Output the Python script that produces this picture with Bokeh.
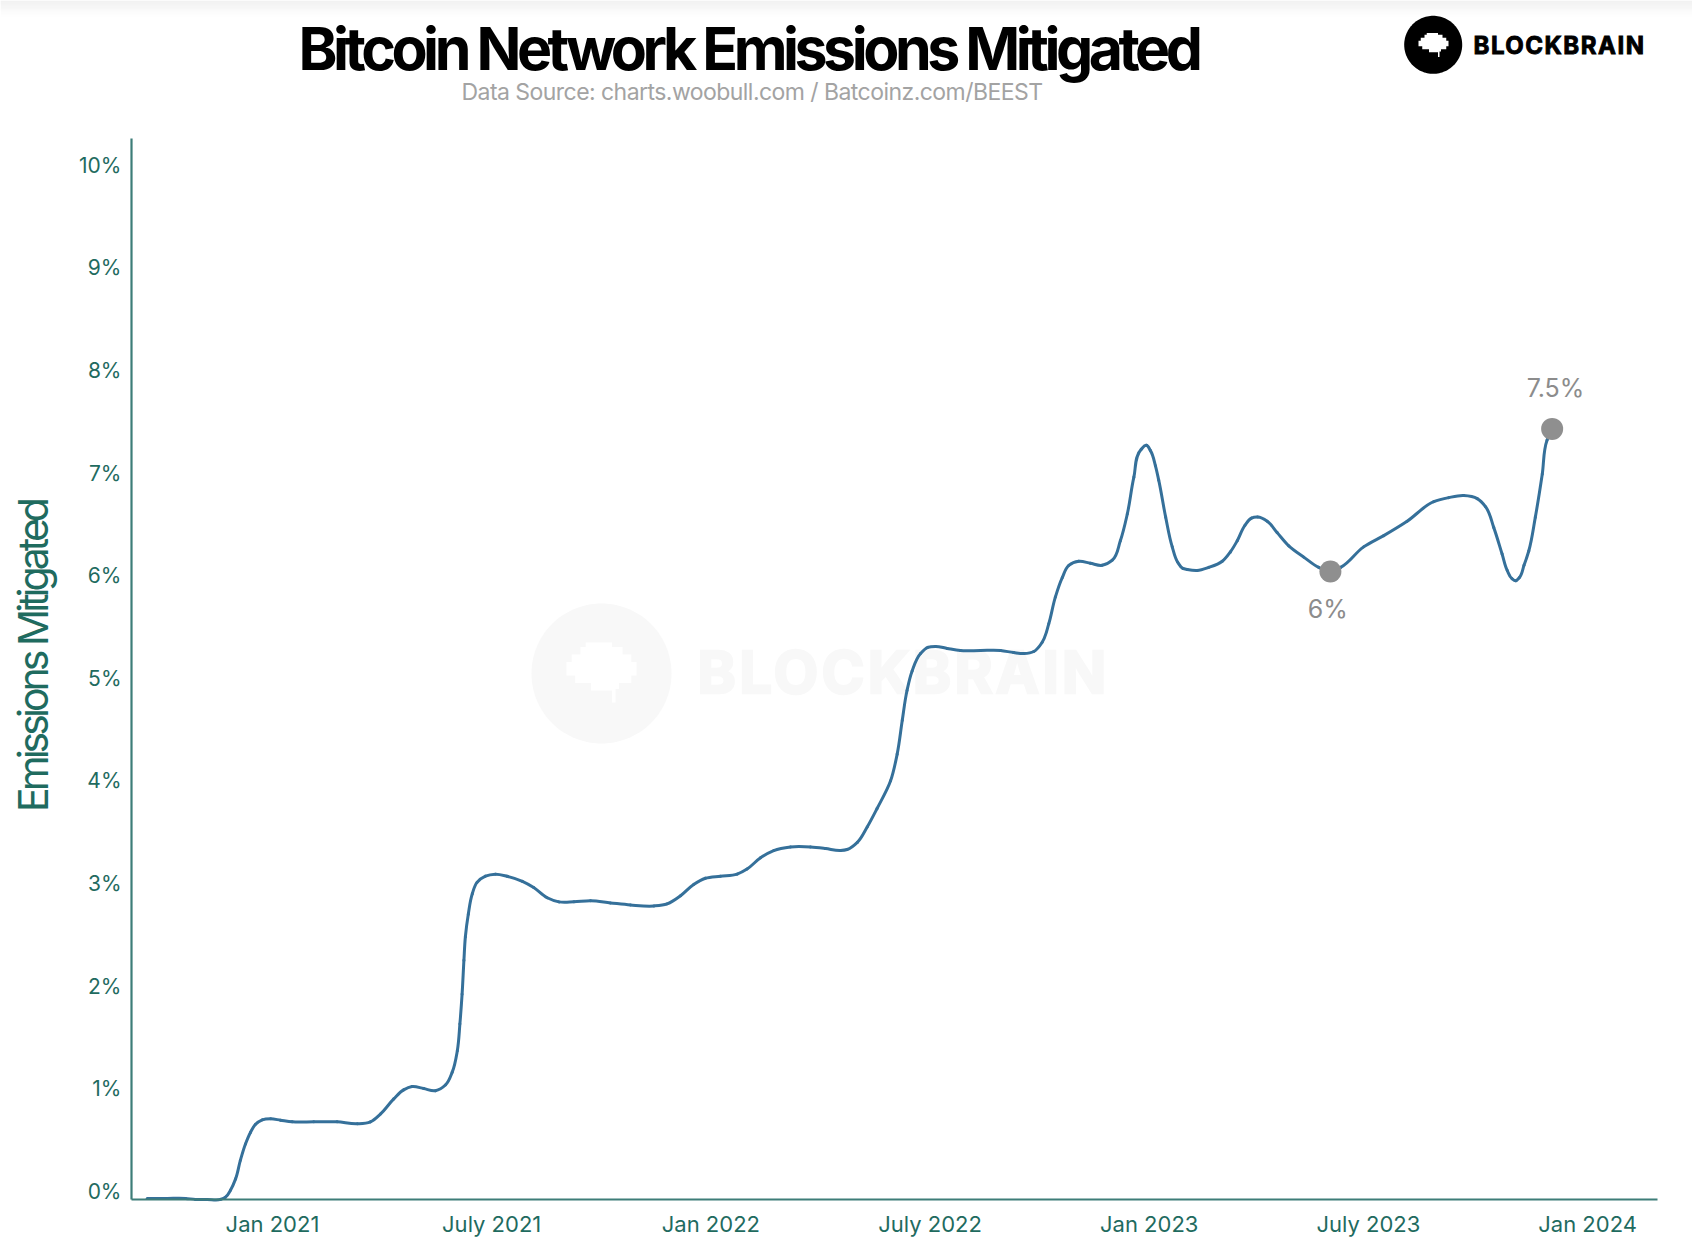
import math
from bokeh.io import curdoc
from bokeh.plotting import figure
from bokeh.core.properties import value
from bokeh.embed import file_html
from bokeh.resources import INLINE
from bokeh.models import Label, PolyAnnotation, FixedTicker, CustomJS

# ---------- data ----------
months_since_jan_2021 = [
    -3.43, -2.88, -2.38, -2.11, -1.79, -1.42, -1.29, -1.15, -1.01, -0.88, -0.74, -0.60, -0.47, -0.28, -0.05,
    0.22, 0.54, 1.13, 1.77, 2.32, 2.68, 2.96, 3.32, 3.59, 3.82, 4.14, 4.46, 4.74, 4.92, 5.06, 5.13, 5.19, 5.24,
    5.28, 5.36, 5.47, 5.60, 5.83, 6.10, 6.42, 6.84, 7.15, 7.52, 7.84, 8.25, 8.71, 9.25, 9.80, 10.44, 10.80,
    11.17, 11.53, 11.85, 12.26, 12.72, 12.99, 13.36, 13.72, 14.18, 14.73, 15.14, 15.55, 15.73, 16.01, 16.28,
    16.55, 16.92, 17.10, 17.24, 17.37, 17.51, 17.74, 17.94, 18.15, 18.47, 18.83, 19.38, 19.93, 20.29, 20.57,
    20.84, 21.07, 21.25, 21.43, 21.62, 21.80, 22.07, 22.39, 22.71, 22.99, 23.21, 23.40, 23.58, 23.78, 23.92,
    24.03, 24.17, 24.26, 24.45, 24.63, 24.78, 24.92, 25.04, 25.31, 25.63, 26.00, 26.22, 26.41, 26.62, 26.80, 26.97, 27.23, 27.50,
    27.82, 28.23, 28.64, 28.96, 29.24, 29.87, 30.42, 31.06, 31.79, 32.20, 32.61, 32.98, 33.21, 33.43, 33.66,
    33.80, 33.93, 34.03, 34.13, 34.26, 34.39, 34.57, 34.76, 34.89, 35.03,
]
emissions_mitigated_pct = [
    -0.07, -0.07, -0.07, -0.08, -0.08, -0.08, -0.06, 0.01, 0.12, 0.30, 0.46, 0.575, 0.65, 0.696, 0.706,
    0.692, 0.676, 0.676, 0.676, 0.657, 0.676, 0.754, 0.90, 0.988, 1.02, 1.00, 0.98, 1.037, 1.16, 1.37, 1.63, 1.92, 2.25,
    2.48, 2.70, 2.90, 3.01, 3.07, 3.09, 3.07, 3.02, 2.96, 2.86, 2.82, 2.82, 2.83, 2.81, 2.79, 2.78, 2.80,
    2.88, 2.99, 3.05, 3.07, 3.09, 3.14, 3.25, 3.32, 3.355, 3.355, 3.34, 3.32, 3.33, 3.40, 3.55,
    3.73, 4.00, 4.26, 4.59, 4.88, 5.07, 5.24, 5.30, 5.31, 5.29, 5.27, 5.27, 5.27, 5.25, 5.24,
    5.26, 5.35, 5.53, 5.79, 5.98, 6.10, 6.14, 6.12, 6.10, 6.15, 6.34, 6.60, 6.96, 7.23, 7.27,
    7.22, 7.07, 6.93, 6.57, 6.28, 6.13, 6.07, 6.06, 6.05, 6.08, 6.14, 6.23, 6.34, 6.49, 6.56, 6.57, 6.53, 6.42,
    6.29, 6.18, 6.08, 6.04, 6.08, 6.28, 6.39, 6.53, 6.72, 6.76, 6.78, 6.75, 6.67, 6.47, 6.21,
    6.05, 5.97, 5.95, 5.98, 6.10, 6.24, 6.57, 6.99, 7.32, 7.43,
]
marker_x = [28.96, 35.03]
marker_y = [6.04, 7.43]
callout_x = [28.89, 35.12]
callout_y = [5.67, 7.83]
callout_text = ["6%", "7.5%"]
x_tick_values = [0, 6, 12, 18, 24, 30, 36]
x_tick_labels = ["Jan 2021", "July 2021", "Jan 2022", "July 2022", "Jan 2023", "July 2023", "Jan 2024"]
y_tick_values = [0, 1, 2, 3, 4, 5, 6, 7, 8, 9, 10]
y_tick_labels = ["0%", "1%", "2%", "3%", "4%", "5%", "6%", "7%", "8%", "9%", "10%"]

TITLE = "Bitcoin Network Emissions Mitigated"
SUBTITLE = "Data Source: charts.woobull.com / Batcoinz.com/BEEST"
Y_LABEL = "Emissions Mitigated"
BRAND = "BLOCKBRAIN"

FONT = "Inter"
TEAL = "#1f6b5f"
PX_X = 36.53   # pixels per month
PX_Y = 102.6   # pixels per percent


def dx(X):  # page pixel -> x data
    return (X - 272) / PX_X


def dy(Y):  # page pixel -> y data
    return (1190.7 - Y) / PX_Y


# The plot area fills the page; the axes are pinned at the chart's own corner so that the
# title and logo can sit in the same plot area.
p = figure(width=1692, height=1256, output_backend="svg", toolbar_location=None,
           x_range=(dx(0), dx(1692)), y_range=(dy(1256), dy(0)),
           min_border_left=0, min_border_right=0, min_border_top=0, min_border_bottom=0,
           background_fill_color="white", border_fill_color="white")
p.outline_line_color = None
p.grid.visible = False

AX_LEFT, AX_RIGHT, AX_TOP, AX_BOTTOM = dx(131), dx(1657), dy(138), dy(1199)

xaxis, yaxis = p.xaxis[0], p.yaxis[0]
xaxis.fixed_location = AX_BOTTOM
xaxis.bounds = (AX_LEFT, AX_RIGHT)
yaxis.fixed_location = AX_LEFT
yaxis.bounds = (AX_BOTTOM, AX_TOP)
for ax, vals, labels, off, size in ((xaxis, x_tick_values, x_tick_labels, 11, "22px"),
                                    (yaxis, y_tick_values, y_tick_labels, 10, "21px")):
    ax.ticker = FixedTicker(ticks=vals)
    ax.major_label_overrides = dict(zip(vals, labels))
    ax.axis_line_color = "#3d7d78"
    ax.axis_line_width = 2.2
    ax.major_tick_line_color = None
    ax.major_tick_out = 0
    ax.major_tick_in = 0
    ax.minor_tick_line_color = None
    ax.major_label_text_color = TEAL
    ax.major_label_text_font = FONT
    ax.major_label_text_font_size = size
    ax.major_label_standoff = off


def circle_poly(cx, cy, r, color, level):
    n = 120
    xs = [dx(cx + r * math.cos(2 * math.pi * i / n)) for i in range(n)]
    ys = [dy(cy + r * math.sin(2 * math.pi * i / n)) for i in range(n)]
    p.add_layout(PolyAnnotation(xs=xs, ys=ys, fill_color=color, fill_alpha=1, line_color=None, level=level))


BRAIN = [(-0.45, -1), (0.3, -1), (0.3, -0.85), (0.6, -0.85), (0.6, -0.6), (0.85, -0.6), (0.85, -0.35), (1, -0.35),
         (1, 0.1), (0.85, 0.1), (0.85, 0.35), (0.5, 0.35), (0.5, 0.55), (0.4, 0.55), (0.4, 1), (0.3, 1), (0.3, 0.6),
         (-0.3, 0.6), (-0.3, 0.35), (-0.75, 0.35), (-0.75, 0.1), (-1, 0.1), (-1, -0.35), (-0.85, -0.35),
         (-0.85, -0.6), (-0.6, -0.6), (-0.6, -0.85), (-0.45, -0.85)]


def brain_poly(cx, cy, hw, hh, color, level):
    p.add_layout(PolyAnnotation(xs=[dx(cx + u * hw) for u, v in BRAIN], ys=[dy(cy + v * hh) for u, v in BRAIN],
                                fill_color=color, fill_alpha=1, line_color=None, level=level))


# top page shading
for i, c in enumerate(["#ededed", "#eeeeee", "#efefef", "#f0f0f0", "#f1f1f1", "#f2f2f2", "#f3f3f3", "#f4f4f4",
                       "#f6f6f6", "#f7f7f7", "#f9f9f9", "#fafafa", "#fbfbfb", "#fcfcfc", "#fdfdfd", "#fefefe"]):
    p.add_layout(PolyAnnotation(xs=[dx(0), dx(1692), dx(1692), dx(0)], ys=[dy(i), dy(i), dy(i + 1), dy(i + 1)],
                                fill_color=c, fill_alpha=1, line_color=None, level="underlay"))

# watermark
circle_poly(601, 673, 70, "#f8f8f8", "underlay")
brain_poly(601, 672, 35, 30, "#ffffff", "underlay")
p.add_layout(Label(x=dx(697), y=dy(671), text=BRAND, text_font=FONT, text_font_style="bold", text_font_size="58px",
                   text_color="#f8f8f8", text_align="left", text_baseline="middle", level="underlay"))

# logo
circle_poly(1432.7, 44.3, 29, "#000000", "overlay")
brain_poly(1433, 44.5, 15, 12, "#ffffff", "overlay")
p.add_layout(Label(x=dx(1473), y=dy(44.5), text=BRAND, text_font=FONT, text_font_style="bold", text_font_size="24px",
                   text_color="#000000", text_align="left", text_baseline="middle"))

# titles
p.add_layout(Label(x=dx(298), y=dy(48), text=TITLE, text_font=FONT, text_font_style="bold", text_font_size="59px",
                   text_color="#000000", text_align="left", text_baseline="middle"))
p.add_layout(Label(x=dx(461), y=dy(91), text=SUBTITLE, text_font=FONT, text_font_style="normal",
                   text_font_size="23px", text_color="#a3a3a3", text_align="left", text_baseline="middle"))
p.add_layout(Label(x=dx(32), y=dy(811.5), text=Y_LABEL, text_font=FONT, text_font_style="normal", text_font_size="41px",
                   text_color=TEAL, text_align="left", text_baseline="middle", angle=math.pi / 2, angle_units="rad"))

n = len(months_since_jan_2021)
assert n == len(emissions_mitigated_pct)
px = [m * PX_X for m in months_since_jan_2021]
py = [v * PX_Y for v in emissions_mitigated_pct]
tx, ty = [], []
for i in range(n):
    a, b = max(i - 1, 0), min(i + 1, n - 1)
    d0 = math.hypot(px[i] - px[a], py[i] - py[a]) or 1
    d1 = math.hypot(px[b] - px[i], py[b] - py[i]) or 1
    vx = ((px[i] - px[a]) / d0 * d1 + (px[b] - px[i]) / d1 * d0) / (d0 + d1)
    vy = ((py[i] - py[a]) / d0 * d1 + (py[b] - py[i]) / d1 * d0) / (d0 + d1)
    norm = math.hypot(vx, vy) or 1
    tx.append(vx / norm)
    ty.append(vy / norm)
x0, y0, x1, y1, cx0, cy0, cx1, cy1 = [], [], [], [], [], [], [], []
for i in range(n - 1):
    L = math.hypot(px[i + 1] - px[i], py[i + 1] - py[i]) / 3
    x0.append(months_since_jan_2021[i]); y0.append(emissions_mitigated_pct[i])
    x1.append(months_since_jan_2021[i + 1]); y1.append(emissions_mitigated_pct[i + 1])
    cx0.append((px[i] + tx[i] * L) / PX_X); cy0.append((py[i] + ty[i] * L) / PX_Y)
    cx1.append((px[i + 1] - tx[i + 1] * L) / PX_X); cy1.append((py[i + 1] - ty[i + 1] * L) / PX_Y)
p.bezier(x0=x0, y0=y0, x1=x1, y1=y1, cx0=cx0, cy0=cy0, cx1=cx1, cy1=cy1,
         line_color="#35709a", line_width=3, line_cap="round")

p.scatter(marker_x, marker_y, size=22, fill_color="#8f8f8f", line_color=None)
p.text(callout_x, callout_y, text=callout_text, text_font=value(FONT), text_font_size="25px", text_color="#8c8c8c",
       text_align="center", text_baseline="middle")

# tight tracking (and a heavier weight for the brand name) on the large texts
fit = CustomJS(code="""
const targets = [["Bitcoin Network Emissions Mitigated", 59, 900, 0],
                 ["Data Source: charts.woobull.com / Batcoinz.com/BEEST", 23, 581, 0],
                 ["Emissions Mitigated", 41, 311, 0],
                 ["BLOCKBRAIN", 58, 412, 2.5],
                 ["BLOCKBRAIN", 24, 172, 0.9]];
function walk(root) {
  root.querySelectorAll('*').forEach(el => {
    if (el.shadowRoot) walk(el.shadowRoot);
    if (el.tagName.toLowerCase() === 'text') {
      const size = parseFloat(getComputedStyle(el).fontSize);
      for (const [t, s, w, sw] of targets) {
        if (el.textContent === t && Math.abs(size - s) < 0.5) {
          el.style.letterSpacing = '0px';
          const len = el.getComputedTextLength();
          el.style.letterSpacing = ((w - len) / t.length).toFixed(3) + 'px';
          if (sw > 0) {
            el.style.stroke = getComputedStyle(el).fill;
            el.style.strokeWidth = sw + 'px';
          }
        }
      }
    }
  });
}
[0, 100, 400, 1000, 2000].forEach(ms => setTimeout(() => walk(document), ms));
""")
doc = curdoc()
doc.add_root(p)
doc.js_on_event("document_ready", fit)

open("out.html", "w").write(file_html(p, INLINE))
